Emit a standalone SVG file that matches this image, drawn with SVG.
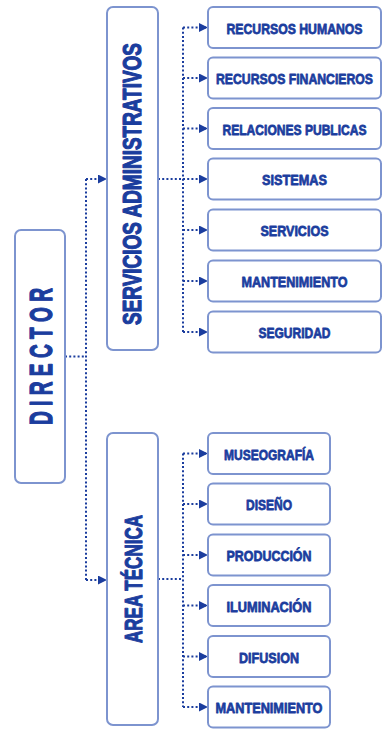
<svg xmlns="http://www.w3.org/2000/svg" width="383" height="740" viewBox="0 0 383 740">
  <style>
    .box { fill: #ffffff; stroke: #7d94cf; stroke-width: 2; }
    .lbl { font-family: "Liberation Sans", Arial, sans-serif; font-weight: bold; fill: #1b3d9e; stroke: #1b3d9e; stroke-linejoin: round; text-anchor: middle; }
    .sm { font-size: 11px; stroke-width: 0.55; }
    .mid { font-size: 17px; stroke-width: 0.8; }
    .big { font-size: 24px; stroke-width: 1; }
    .dot { fill: none; stroke: #1b3d9e; stroke-width: 2; stroke-dasharray: 2 2.2; }
    .arr { marker-end: url(#tri); }
  </style>
  <defs>
    <marker id="tri" markerUnits="userSpaceOnUse" markerWidth="9" markerHeight="9" viewBox="0 0 9 9" refX="9" refY="4.5" orient="auto">
      <path d="M0 0 L9 4.5 L0 9 z" fill="#1b3d9e"/>
    </marker>
  </defs>

  <rect width="383" height="740" fill="#ffffff"/>

  <!-- connectors -->
  <g id="connectors">
    <!-- director to departments -->
    <path class="dot" d="M65 356.5 H86"/>
    <path class="dot" d="M86 179 V580"/>
    <path class="dot arr" d="M86 179 H107"/>
    <path class="dot arr" d="M86 580 H107"/>
    <!-- administrative services -->
    <path class="dot" d="M158 179 H183"/>
    <path class="dot" d="M183 27.5 V332"/>
    <path class="dot arr" d="M183 27.5 H208"/>
    <path class="dot arr" d="M183 78 H208"/>
    <path class="dot arr" d="M183 128.5 H208"/>
    <path class="dot arr" d="M183 179 H208"/>
    <path class="dot arr" d="M183 230 H208"/>
    <path class="dot arr" d="M183 281 H208"/>
    <path class="dot arr" d="M183 332 H208"/>
    <!-- technical area -->
    <path class="dot" d="M158 579 H183"/>
    <path class="dot" d="M183 453.5 V707"/>
    <path class="dot arr" d="M183 453.5 H208"/>
    <path class="dot arr" d="M183 504 H208"/>
    <path class="dot arr" d="M183 555 H208"/>
    <path class="dot arr" d="M183 605.5 H208"/>
    <path class="dot arr" d="M183 656.5 H208"/>
    <path class="dot arr" d="M183 707 H208"/>
  </g>

  <!-- top level -->
  <g id="director">
    <rect class="box" x="15" y="230" width="50" height="253" rx="6"/>
    <text class="lbl big" transform="translate(52,356.5) rotate(-90) scale(1,1.34)" textLength="137" lengthAdjust="spacingAndGlyphs">D I R E C T O R</text>
  </g>

  <!-- departments -->
  <g id="servicios-administrativos">
    <rect class="box" x="107" y="7" width="51" height="343" rx="6"/>
    <text class="lbl mid" transform="translate(141,184) rotate(-90) scale(1,1.47)" textLength="282" lengthAdjust="spacingAndGlyphs">SERVICIOS ADMINISTRATIVOS</text>
  </g>
  <g id="area-tecnica">
    <rect class="box" x="107" y="433" width="51" height="292" rx="6"/>
    <text class="lbl mid" transform="translate(141.5,579) rotate(-90) scale(1,1.4)" textLength="128" lengthAdjust="spacingAndGlyphs">AREA TÉCNICA</text>
  </g>

  <!-- administrative units -->
  <g id="recursos-humanos">
    <rect class="box" x="208" y="7" width="173" height="41" rx="5"/>
    <text class="lbl sm" transform="translate(294.5,33.5) scale(1,1.4)" textLength="136" lengthAdjust="spacingAndGlyphs">RECURSOS HUMANOS</text>
  </g>
  <g id="recursos-financieros">
    <rect class="box" x="208" y="57.5" width="173" height="41" rx="5"/>
    <text class="lbl sm" transform="translate(294.5,84) scale(1,1.4)" textLength="157" lengthAdjust="spacingAndGlyphs">RECURSOS FINANCIEROS</text>
  </g>
  <g id="relaciones-publicas">
    <rect class="box" x="208" y="108" width="173" height="41" rx="5"/>
    <text class="lbl sm" transform="translate(294.5,134.5) scale(1,1.4)" textLength="144" lengthAdjust="spacingAndGlyphs">RELACIONES PUBLICAS</text>
  </g>
  <g id="sistemas">
    <rect class="box" x="208" y="158.5" width="173" height="41" rx="5"/>
    <text class="lbl sm" transform="translate(294.5,185) scale(1,1.4)" textLength="65" lengthAdjust="spacingAndGlyphs">SISTEMAS</text>
  </g>
  <g id="servicios">
    <rect class="box" x="208" y="209.5" width="173" height="41" rx="5"/>
    <text class="lbl sm" transform="translate(294.5,236) scale(1,1.4)" textLength="68" lengthAdjust="spacingAndGlyphs">SERVICIOS</text>
  </g>
  <g id="mantenimiento-adm">
    <rect class="box" x="208" y="260.5" width="173" height="41" rx="5"/>
    <text class="lbl sm" transform="translate(294.5,287) scale(1,1.4)" textLength="106" lengthAdjust="spacingAndGlyphs">MANTENIMIENTO</text>
  </g>
  <g id="seguridad">
    <rect class="box" x="208" y="311.5" width="173" height="41" rx="5"/>
    <text class="lbl sm" transform="translate(294.5,338) scale(1,1.4)" textLength="72" lengthAdjust="spacingAndGlyphs">SEGURIDAD</text>
  </g>

  <!-- technical units -->
  <g id="museografia">
    <rect class="box" x="208" y="433" width="122" height="41" rx="5"/>
    <text class="lbl sm" transform="translate(269,459.5) scale(1,1.4)" textLength="90" lengthAdjust="spacingAndGlyphs">MUSEOGRAFÍA</text>
  </g>
  <g id="diseno">
    <rect class="box" x="208" y="483.5" width="122" height="41" rx="5"/>
    <text class="lbl sm" transform="translate(269,510) scale(1,1.4)" textLength="46" lengthAdjust="spacingAndGlyphs">DISEÑO</text>
  </g>
  <g id="produccion">
    <rect class="box" x="208" y="534.5" width="122" height="41" rx="5"/>
    <text class="lbl sm" transform="translate(269,561) scale(1,1.4)" textLength="85" lengthAdjust="spacingAndGlyphs">PRODUCCIÓN</text>
  </g>
  <g id="iluminacion">
    <rect class="box" x="208" y="585" width="122" height="41" rx="5"/>
    <text class="lbl sm" transform="translate(269,611.5) scale(1,1.4)" textLength="85" lengthAdjust="spacingAndGlyphs">ILUMINACIÓN</text>
  </g>
  <g id="difusion">
    <rect class="box" x="208" y="636" width="122" height="41" rx="5"/>
    <text class="lbl sm" transform="translate(269,662.5) scale(1,1.4)" textLength="60" lengthAdjust="spacingAndGlyphs">DIFUSION</text>
  </g>
  <g id="mantenimiento-tec">
    <rect class="box" x="208" y="686.5" width="122" height="41" rx="5"/>
    <text class="lbl sm" transform="translate(269,713) scale(1,1.4)" textLength="107" lengthAdjust="spacingAndGlyphs">MANTENIMIENTO</text>
  </g>
</svg>
